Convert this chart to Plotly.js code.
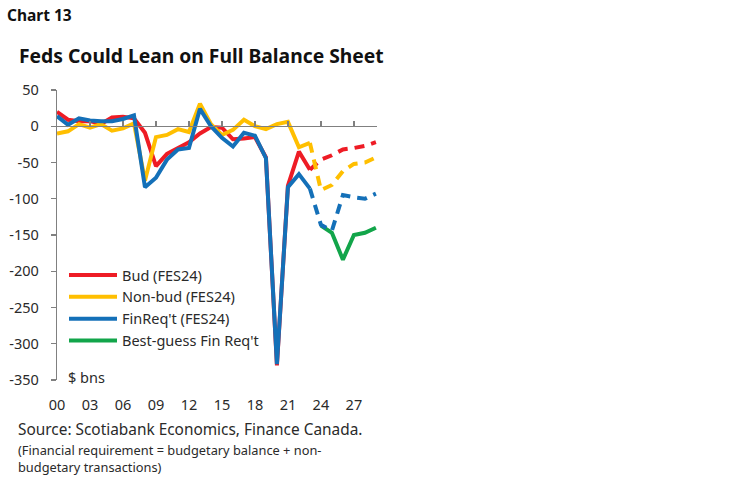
<!DOCTYPE html>
<html>
<head>
<meta charset="utf-8">
<script src="https://cdn.plot.ly/plotly-3.0.1.min.js"></script>
<style>
  html, body { margin: 0; padding: 0; background: #fff; }
  #chart { width: 748px; height: 483px; }
</style>
</head>
<body>
<div id="chart"></div>
<script>
// fiscal years 2000..2023 (actuals) and 2023..2029 (projections), $ bns
const years = [2000, 2001, 2002, 2003, 2004, 2005, 2006, 2007, 2008, 2009, 2010, 2011,
  2012, 2013, 2014, 2015, 2016, 2017, 2018, 2019, 2020, 2021, 2022, 2023];
const budActual = [20, 9, 7, 7, 3, 12, 13, 11, -9, -55, -38, -30,
  -22, -10, -1, -2, -18, -17, -15, -43, -330, -82, -35, -60];
const nonBudActual = [-10, -7, 3, -2, 3, -6, -3, 4, -75, -15, -12, -4,
  -8, 31, 3, -12, -5, 9, 0, -4, 3, 6, -29, -23];
const finReqActual = [14, 2, 11, 8, 7, 7, 10, 15, -84, -71, -46, -32,
  -30, 24, 0, -16, -28, -9, -13, -44, -328, -84, -66, -86];

const projYears = [2023, 2024, 2025, 2026, 2027, 2028, 2029];
const budProj = [-60, -46, -40, -32, -30, -27, -22];
const nonBudProj = [-23, -88, -81, -62, -52, -50, -43];
const finReqProj = [-86, -136, -144, -95, -98, -100, -93];

const guessYears = [2024, 2025, 2026, 2027, 2028, 2029];
const bestGuess = [-137, -147, -184, -150, -147, -140];

const tickYears = [2000, 2003, 2006, 2009, 2012, 2015, 2018, 2021, 2024, 2027];
const tickText = ["00", "03", "06", "09", "12", "15", "18", "21", "24", "27"];
const yTicks = [50, 0, -50, -100, -150, -200, -250, -300, -350];
const yTickText = ["50", "0", "-50", "-100", "-150", "-200", "-250", "-300", "-350"];

const RED = "#ee1c25", YEL = "#ffbf00", BLU = "#1470b8", GRN = "#12a54a";
const W = 4;

// plot area in pixels
const L = 57, R = 377, T = 90, B = 380;
const px = (x) => (x - L) / (R - L);
const py = (y) => (B - y) / (B - T);

const traces = [
  {x: years, y: budActual, name: "Bud (FES24)", line: {color: RED, width: W}},
  {x: years, y: nonBudActual, name: "Non-bud (FES24)", line: {color: YEL, width: W}},
  {x: years, y: finReqActual, name: "FinReq't (FES24)", line: {color: BLU, width: W}},
  {x: guessYears, y: bestGuess, name: "Best-guess Fin Req't", line: {color: GRN, width: W}},
  {x: projYears, y: budProj, showlegend: false, line: {color: RED, width: W, dash: "10px,7px"}},
  {x: projYears, y: nonBudProj, showlegend: false, line: {color: YEL, width: W, dash: "10px,7px"}},
  {x: projYears, y: finReqProj, showlegend: false, line: {color: BLU, width: W, dash: "10px,7px"}},
  // carrier for the zero-line axis
  {x: [2000], y: [0], xaxis: "x2", mode: "markers", marker: {opacity: 0}, showlegend: false, hoverinfo: "skip"}
].map(t => Object.assign({type: "scatter", mode: "lines"}, t));

const FONT = "'Noto Sans', 'Open Sans', sans-serif";
const GREY = "#2a2a2a";

const layout = {
  width: 748, height: 483,
  margin: {l: L, r: 748 - R, t: T, b: 483 - B},
  paper_bgcolor: "#fff", plot_bgcolor: "#fff",
  font: {family: FONT, color: GREY, size: 14},
  showlegend: true,
  legend: {
    x: px(64), y: py(259), xanchor: "left", yanchor: "top",
    bgcolor: "rgba(0,0,0,0)", itemwidth: 48,
    font: {family: FONT, size: 14.5, color: GREY},
    tracegroupgap: 0
  },
  xaxis: {
    range: [2000, 2029.1], showgrid: false, zeroline: false, showline: false,
    ticks: "", tickmode: "array", tickvals: tickYears, ticktext: tickText,
    tickfont: {size: 14.5, color: GREY}, ticklabelstandoff: 14, fixedrange: true
  },
  xaxis2: {
    matches: "x", overlaying: "x", anchor: "free", position: py(126),
    showgrid: false, zeroline: false, showline: true, linecolor: "#808080", linewidth: 1.3,
    ticks: "inside", ticklen: 5, tickcolor: "#808080", tickwidth: 1.3,
    tickmode: "array", tickvals: tickYears, showticklabels: false
  },
  yaxis: {
    range: [-350, 50], tickmode: "array", tickvals: yTicks, ticktext: yTickText,
    showgrid: false, zeroline: false,
    showline: true, linecolor: "#808080", linewidth: 1.3,
    ticks: "outside", ticklen: 5, tickcolor: "#808080", tickwidth: 1.3,
    tickfont: {size: 14.5, color: GREY}, ticklabelstandoff: 9
  },
  annotations: [
    {text: "<b>Chart 13</b>", x: px(5), y: py(15), xanchor: "left", yanchor: "middle",
     font: {size: 15.5, color: "#111"}},
    {text: "<b>Feds Could Lean on Full Balance Sheet</b>", x: px(17), y: py(55), xanchor: "left", yanchor: "middle",
     font: {size: 19.3, color: "#111"}},
    {text: "$ bns", x: px(66), y: py(377), xanchor: "left", yanchor: "middle",
     font: {size: 14.5, color: GREY}},
    {text: "Source: Scotiabank Economics, Finance Canada.", x: px(16), y: py(429), xanchor: "left", yanchor: "middle",
     font: {size: 15.4, color: GREY}},
    {text: "(Financial requirement = budgetary balance + non-<br>budgetary transactions)", x: px(16), y: py(439),
     xanchor: "left", yanchor: "top", align: "left", font: {size: 12.8, color: GREY}}
  ].map(a => Object.assign({xref: "paper", yref: "paper", showarrow: false}, a))
};

Plotly.newPlot("chart", traces, layout, {staticPlot: true, displayModeBar: false});
</script>
</body>
</html>
